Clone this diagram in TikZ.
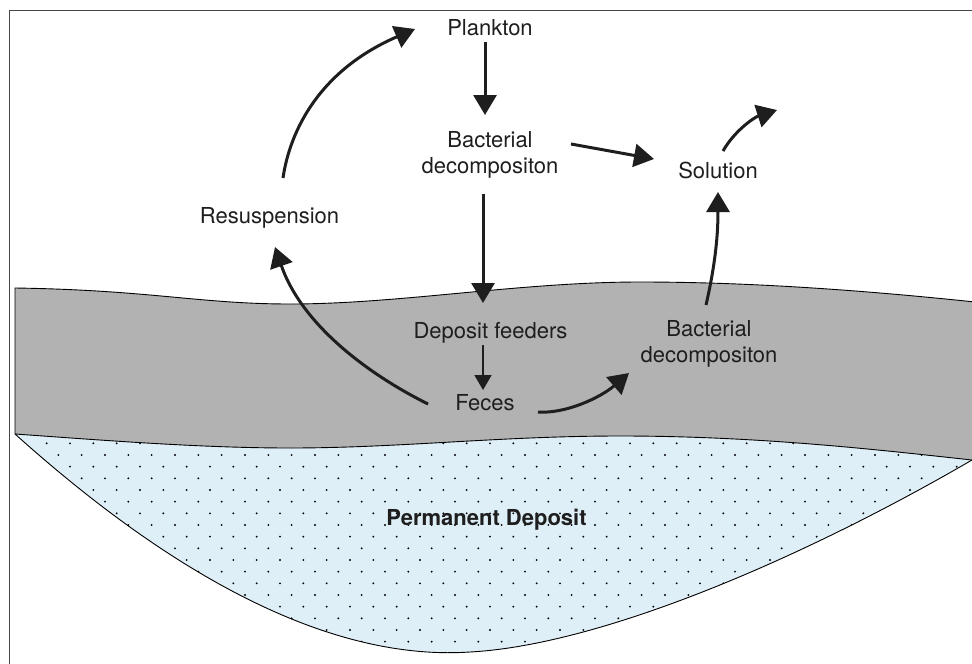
\documentclass[tikz,border=0pt]{standalone}
\usepackage{fontspec}
\setmainfont{TeX Gyre Heros}
\usetikzlibrary{arrows.meta}
\definecolor{bandc}{RGB}{177,178,177}
\definecolor{lensc}{RGB}{223,239,247}
\definecolor{ink}{RGB}{30,30,30}
\definecolor{framec}{RGB}{70,70,70}
\tikzset{
  lbl/.style={font=\fontsize{22}{26}\selectfont, text=ink, inner sep=0pt, align=center},
  boldlbl/.style={font=\fontsize{22}{26}\selectfont\bfseries, text=ink, inner sep=0pt},
  arr/.style={line width=3pt, draw=ink, -{Triangle[length=20pt,width=23pt]}},
  thinarr/.style={line width=1.7pt, draw=ink, -{Triangle[length=15pt,width=17pt]}},
  outline/.style={draw=black, line width=0.9pt},
}
\begin{document}
\begin{tikzpicture}[x=1pt,y=-1pt]
\useasboundingbox (0,0) rectangle (972,664);
% frame
\draw[framec, line width=1.2pt] (9.5,670) -- (9.5,10.5) -- (980,10.5);
% lens fill
\fill[lensc] (15,434) .. controls (100,440) and (200,448) .. (290,448)
  .. controls (400,448) and (500,436) .. (620,436)
  .. controls (760,436) and (880,450) .. (972,460)
  .. controls (800,560) and (600,645) .. (470,652)
  .. controls (350,660) and (200,600) .. (15,434) -- cycle;
% dots
\begin{scope}
\clip (15,434) .. controls (100,440) and (200,448) .. (290,448)
  .. controls (400,448) and (500,436) .. (620,436)
  .. controls (760,436) and (880,450) .. (972,460)
  .. controls (800,560) and (600,645) .. (470,652)
  .. controls (350,660) and (200,600) .. (15,434) -- cycle;
\foreach \r in {-1,...,18}{
  \foreach \c in {0,...,42}{
    \pgfmathsetmacro{\dx}{11.667*mod(\r+2,2)+23.333*\c}
    \pgfmathsetmacro{\dy}{443.3+11.667*\r}
    \fill[black] (\dx,\dy) circle (1.05);
  }
}
\end{scope}
% lens outline (lower curve)
\draw[outline] (972,460) .. controls (800,560) and (600,645) .. (470,652)
  .. controls (350,660) and (200,600) .. (15,434);
% sediment band
\filldraw[fill=bandc, outline] (15,288) .. controls (150,290) and (200,304) .. (290,304)
  .. controls (400,304) and (520,282) .. (640,282)
  .. controls (760,282) and (880,292) .. (975,302)
  -- (975,460) -- (972,460)
  .. controls (880,450) and (760,436) .. (620,436)
  .. controls (500,436) and (400,448) .. (290,448)
  .. controls (200,448) and (100,440) .. (15,434) -- cycle;
% labels
\node[lbl, anchor=base] (plankton) at (490,35) {Plankton};
\node[lbl] (bact1) at (490,154.5) {Bacterial\\decompositon};
\node[lbl, anchor=base] (solution) at (718,178) {Solution};
\node[lbl, anchor=base] (resus) at (269.5,223) {Resuspension};
\node[lbl, anchor=base] (feeders) at (490.5,338) {Deposit feeders};
\node[lbl, anchor=base] (feces) at (485,410) {Feces};
\node[lbl] (bact2) at (709,343.5) {Bacterial\\decompositon};
\node[boldlbl, anchor=base] (perm) at (486.5,525) {Permanent Deposit};
\coordinate (out) at (777,110);
% arrows
\draw[arr] ([shift={(-5,7)}]plankton.base) -- ([shift={(-5,-39.5)}]bact1.center);
\draw[arr] ([shift={(-7,39.5)}]bact1.center) -- ([shift={(-7.5,-35)}]feeders.base);
\draw[thinarr] ([shift={(-7.5,7)}]feeders.base) -- ([shift={(-2,-20)}]feces.base);
\draw[arr] ([shift={(81,-10.5)}]bact1.center) -- ([shift={(-64,-19)}]solution.base);
\draw[arr] ([shift={(5,-27)}]solution.base) .. controls (735,130) and (755,117) .. (out);
\draw[arr] ([shift={(-3,-38.5)}]bact2.center) .. controls (714,270) and (718,240) .. ([shift={(0,14)}]solution.base);
\draw[arr] ([shift={(53,2)}]feces.base) .. controls (565,414) and (600,398) .. ([shift={(-80,29.5)}]bact2.center);
\draw[arr] ([shift={(-57,-6)}]feces.base) .. controls (360,370) and (300,320) .. ([shift={(5.5,24)}]resus.base);
\draw[arr] ([shift={(13.5,-45)}]resus.base) .. controls (290,130) and (320,70) .. ([shift={(-75,-6)}]plankton.base);
\end{tikzpicture}
\end{document}
